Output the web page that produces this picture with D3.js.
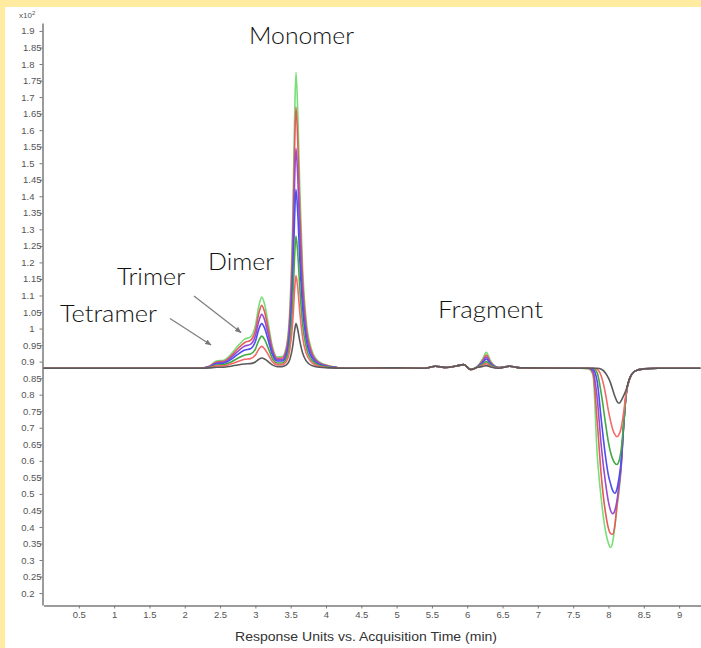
<!DOCTYPE html>
<html><head><meta charset="utf-8">
<script src="https://cdn.jsdelivr.net/npm/d3@7/dist/d3.min.js"></script>
<style>body{margin:0;background:#ffeca0;overflow:hidden} svg{display:block}</style>
</head><body><svg id="c" width="701" height="648"></svg>
<script>
// Acquisition time (min)
const times = [0,1,2,2.2, 2.35,2.45,2.55,2.65,2.75,2.85,2.93, 3.0,3.05,3.09,3.13,3.18,3.24,3.31,3.38,3.44,3.49,
  3.53,3.555,3.575,3.6,3.63,3.67,3.72,3.8,3.9, 4.05,4.3,5.0,5.4,
  5.55,5.7,5.85,5.95,6.05,6.15,6.22,6.27,6.33,6.45,6.6,6.75,
  7.6,7.72,7.78,7.84,7.9,7.96,8.0,8.03,8.06,8.09,8.12,8.15,8.18,8.21,8.25,8.3,8.38,8.5,8.7,9.3];

// Response (x10^2) for each injection
const seriesA = [.88,.88,.88,.88, .886,.902,.904,.921,.947,.968,.975, 1.009,1.069,1.095,1.074,1.018,.947,.914,.915,.947,1.068,
  1.334,1.632,1.775,1.659,1.417,1.175,1.023,.934,.900, .887,.88,.881,.88,
  .886,.882,.887,.891,.876,.887,.909,.928,.902,.882,.886,.881,
  .88,.878,.86,.62,.48,.385,.35,.338,.355,.40,.46,.51,.58,.69,.80,.848,.872,.878,.88,.88];
const seriesB = [.88,.88,.88,.88, .886,.899,.901,.916,.939,.958,.964, .994,1.047,1.070,1.051,1.002,.939,.910,.911,.939,1.046,
  1.281,1.544,1.670,1.567,1.354,1.141,1.006,.927,.897, .886,.88,.881,.88,
  .886,.882,.887,.891,.876,.886,.904,.920,.898,.882,.886,.881,
  .88,.879,.865,.72,.55,.44,.395,.38,.378,.405,.465,.52,.585,.69,.80,.848,.872,.878,.88,.88];
const seriesC = [.88,.88,.88,.88, .885,.896,.898,.911,.931,.947,.952, .978,1.023,1.043,1.027,.984,.931,.906,.906,.930,1.020,
  1.217,1.439,1.545,1.459,1.279,1.099,.986,.920,.895, .885,.88,.881,.88,
  .886,.882,.887,.891,.876,.885,.900,.914,.895,.882,.886,.881,
  .88,.88,.872,.79,.64,.53,.475,.45,.44,.45,.48,.53,.59,.69,.80,.848,.872,.878,.88,.88];
const seriesD = [.88,.88,.88,.88, .884,.894,.895,.906,.922,.935,.939, .961,.999,1.015,1.002,.966,.922,.902,.902,.921,.993,
  1.154,1.334,1.420,1.350,1.204,1.058,.966,.912,.892, .884,.88,.881,.88,
  .886,.882,.887,.891,.876,.885,.897,.908,.893,.881,.886,.881,
  .88,.88,.877,.84,.72,.61,.555,.53,.51,.502,.515,.55,.60,.695,.80,.848,.872,.878,.88,.88];
const seriesE = [.88,.88,.88,.88, .883,.890,.891,.898,.910,.920,.923, .938,.965,.977,.967,.942,.910,.896,.896,.910,.964,
  1.083,1.216,1.280,1.228,1.120,1.012,.944,.904,.889, .883,.88,.881,.88,
  .886,.882,.887,.891,.876,.884,.892,.900,.889,.881,.886,.881,
  .88,.88,.88,.866,.80,.71,.655,.625,.605,.593,.589,.60,.635,.70,.80,.848,.872,.878,.88,.88];
const seriesF = [.88,.88,.88,.88, .882,.887,.887,.893,.900,.907,.909, .920,.938,.946,.939,.922,.900,.891,.891,.901,.939,
  1.022,1.115,1.160,1.124,1.048,.972,.925,.897,.886, .882,.88,.881,.88,
  .886,.882,.887,.891,.876,.883,.888,.894,.886,.880,.886,.881,
  .88,.88,.88,.877,.855,.80,.75,.72,.695,.68,.673,.68,.70,.74,.805,.848,.872,.878,.88,.88];
const seriesG = [.88,.88,.88,.88, .881,.883,.883,.886,.890,.893,.894, .899,.907,.911,.908,.900,.890,.885,.885,.890,.908,
  .948,.993,1.015,.997,.961,.925,.902,.888,.883, .881,.88,.881,.88,
  .886,.882,.887,.891,.876,.883,.885,.888,.884,.880,.886,.881,
  .88,.88,.88,.88,.877,.865,.85,.835,.815,.795,.78,.774,.782,.795,.815,.85,.872,.878,.88,.88];

const seriesList = [seriesA, seriesB, seriesC, seriesD, seriesE, seriesF, seriesG];
const seriesColors = ["#78de78", "#e65a5a", "#9a4ccc", "#4d4df0", "#45a845", "#f46a6a", "#5a5a5a"];

const yTickValues = [0.2,0.25,0.3,0.35,0.4,0.45,0.5,0.55,0.6,0.65,0.7,0.75,0.8,0.85,0.9,0.95,1,1.05,1.1,1.15,1.2,1.25,1.3,1.35,1.4,1.45,1.5,1.55,1.6,1.65,1.7,1.75,1.8,1.85,1.9];
const xTickValues = [0.5,1,1.5,2,2.5,3,3.5,4,4.5,5,5.5,6,6.5,7,7.5,8,8.5,9];

const labels = ["Monomer", "Dimer", "Trimer", "Tetramer", "Fragment"];
const xTitle = "Response Units vs. Acquisition Time (min)";

const svg = d3.select("#c");
svg.append("rect").attr("width",701).attr("height",648).attr("fill","#ffeca0");
svg.append("rect").attr("x",5).attr("y",7).attr("width",696).attr("height",641).attr("fill","#ffffff");

const x = d3.scaleLinear().domain([0, 9.31]).range([43.5, 701]);
const y = d3.scaleLinear().domain([0.164, 1.924]).range([605, 23]);

// Y axis
const yAxis = svg.append("g").attr("transform","translate(42.5,0)")
  .call(d3.axisLeft(y).tickValues(yTickValues).tickSize(3).tickSizeOuter(0).tickFormat(d => String(d)));
yAxis.select(".domain").attr("stroke","#7a7a7a").attr("stroke-width",1.5);
yAxis.selectAll(".tick line").attr("stroke","#7a7a7a");
yAxis.selectAll(".tick text")
  .attr("fill","#555").style("font-family","Liberation Sans, Arial, sans-serif").style("font-size","9.5px")
  .attr("x", d => String(d).length >= 4 ? -1 : -8);

// X axis
const xAxis = svg.append("g").attr("transform","translate(0,605.5)")
  .call(d3.axisBottom(x).tickValues(xTickValues).tickSize(3).tickSizeOuter(0).tickFormat(d => String(d)));
xAxis.select(".domain").attr("stroke","#7a7a7a").attr("stroke-width",1.5);
xAxis.selectAll(".tick line").attr("stroke","#7a7a7a");
xAxis.selectAll(".tick text")
  .attr("fill","#555").style("font-family","Liberation Sans, Arial, sans-serif").style("font-size","9.5px")
  .attr("y", 6);

// multiplier
const mult = svg.append("text").attr("x",19).attr("y",18).attr("fill","#555")
  .style("font-family","Liberation Sans, Arial, sans-serif").style("font-size","8px");
mult.append("tspan").text("x10");
mult.append("tspan").attr("dy",-3).style("font-size","6px").text("2");

// X title
svg.append("text").attr("x",235).attr("y",641).attr("fill","#333")
  .attr("textLength",262).attr("lengthAdjust","spacingAndGlyphs")
  .style("font-family","Liberation Sans, Arial, sans-serif").style("font-size","13px").text(xTitle);

// traces
const line = d3.line().x((d,i) => x(times[i])).y(d => y(d)).curve(d3.curveMonotoneX);
seriesList.forEach((s, k) => {
  svg.append("path").datum(s).attr("d", line).attr("fill","none")
    .attr("stroke", seriesColors[k]).attr("stroke-width",1.6).attr("stroke-linejoin","round");
});

// annotations
const defs = svg.append("defs");
defs.append("marker").attr("id","ah").attr("viewBox","0 0 10 10").attr("refX",9).attr("refY",5)
  .attr("markerWidth",5).attr("markerHeight",5).attr("orient","auto")
  .append("path").attr("d","M0,1 L10,5 L0,9 Z").attr("fill","#777");

const labelPos = [[249,44,105],[208,270,66],[117,285,68],[60,322,97],[438,318,105]];
labels.forEach((t,i) => {
  const p = labelPos[i];
  svg.append("text").attr("x",p[0]).attr("y",p[1]).attr("fill","#111")
    .attr("textLength",p[2]).attr("lengthAdjust","spacingAndGlyphs")
    .style("font-family","Lato, 'Open Sans', sans-serif").style("font-weight","300").style("font-size","24px").text(t);
});
[[170,318.5,211,345],[194,296,241,332.5]].forEach(a => {
  svg.append("line").attr("x1",a[0]).attr("y1",a[1]).attr("x2",a[2]).attr("y2",a[3])
    .attr("stroke","#808080").attr("stroke-width",1.3).attr("marker-end","url(#ah)");
});
</script></body></html>
